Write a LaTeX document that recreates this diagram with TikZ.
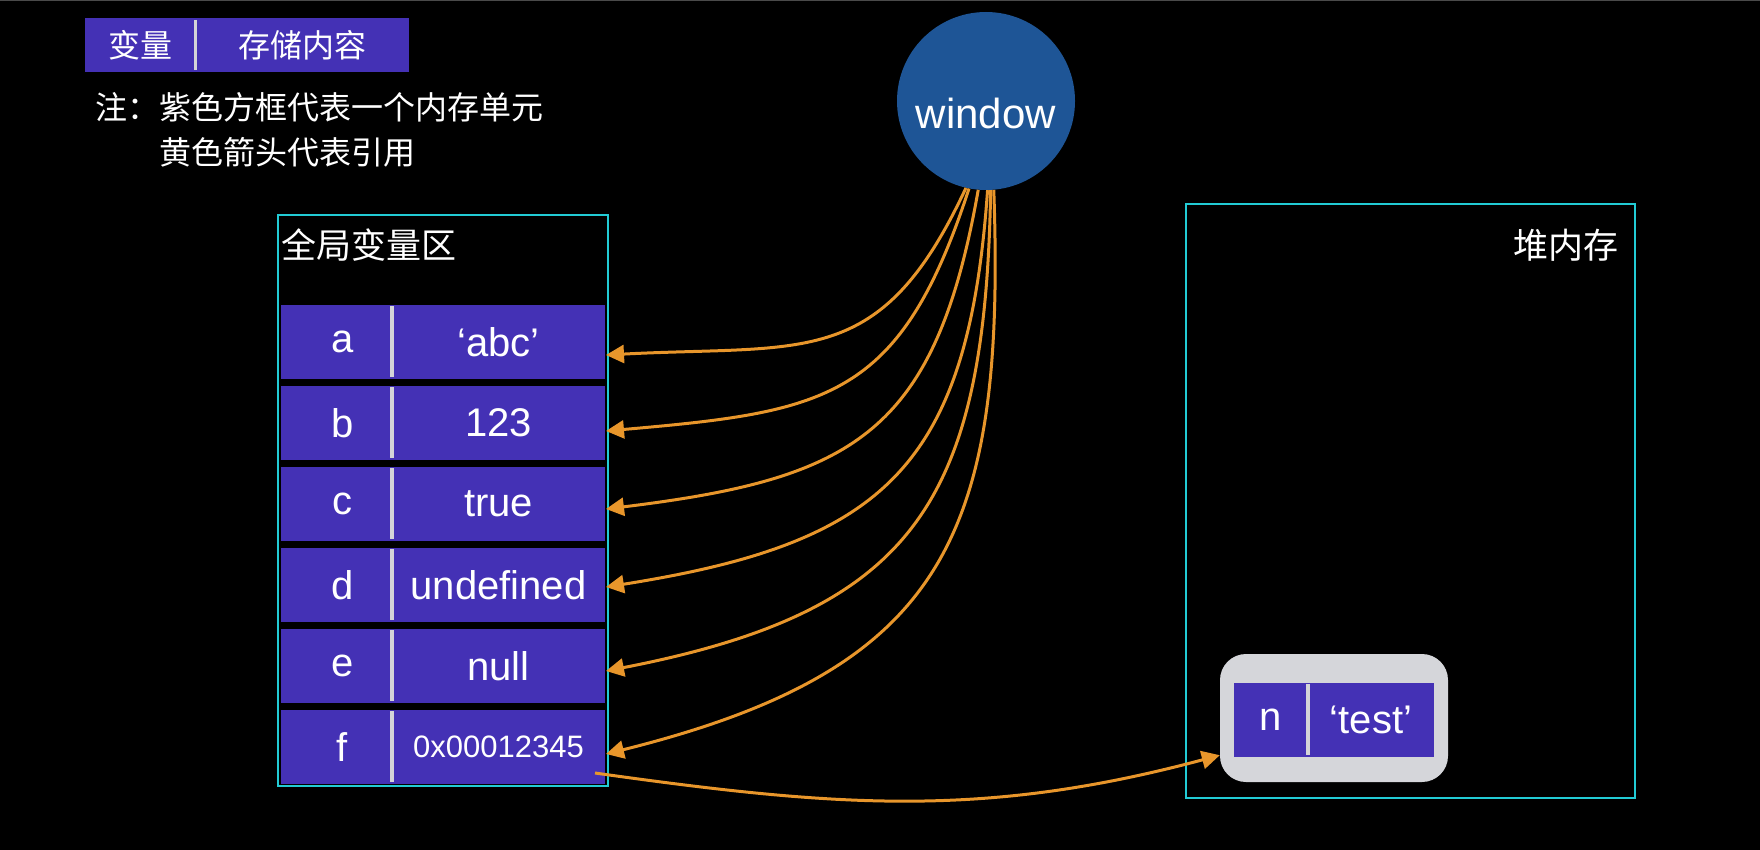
\documentclass[tikz,border=0pt]{standalone}
\usepackage{fontspec}
\setmainfont{Liberation Sans}
\newfontfamily\cjk{Noto Sans CJK SC}
\usetikzlibrary{arrows.meta, positioning}

\definecolor{cellpurple}{HTML}{4431B5}
\definecolor{cellline}{HTML}{D4D4D8}
\definecolor{regioncyan}{HTML}{22CBD5}
\definecolor{refarrow}{HTML}{E8962B}
\definecolor{winblue}{HTML}{1E5596}
\definecolor{heapgray}{HTML}{D5D6DA}
\definecolor{topline}{HTML}{4A4A4A}

\tikzset{
  keycell/.style={fill=cellpurple, text=white, minimum width=111pt, minimum height=74pt,
    inner sep=0pt, outer sep=0pt, font=\fontsize{40}{40}\selectfont},
  valcell/.style={keycell, minimum width=213pt},
  legkey/.style={keycell, minimum width=110pt, minimum height=54pt, font=\cjk\fontsize{32}{32}\selectfont},
  legval/.style={legkey, minimum width=214pt},
  divider/.style={draw=cellline, line width=4pt},
  region/.style={draw=regioncyan, line width=2pt},
  label/.style={text=white, inner sep=0pt, font=\cjk\fontsize{35}{35}\selectfont},
  note/.style={text=white, inner sep=0pt, font=\cjk\fontsize{32}{32}\selectfont},
  window/.style={circle, fill=winblue, text=white, minimum size=178pt, inner sep=0pt,
    font=\fontsize{42}{42}\selectfont, text height=56pt, text depth=0pt},
  heapbox/.style={fill=heapgray, rounded corners=26pt, minimum width=228pt, minimum height=128pt},
  ref/.style={draw=refarrow, line width=3pt, -{Triangle[length=18pt,width=18pt]}},
}

\begin{document}
\begin{tikzpicture}[x=1pt, y=1pt]
    \useasboundingbox (0,0) rectangle (1760,-850);
    \fill[black] (0,0) rectangle (1760,-850);
    \draw[draw=topline, line width=2pt] (0,0) -- (1760,0);

    % Legend
    \node[legkey] (legk) at (140,-45) {变量};
    \node[legval, right=0pt of legk] (legv) {存储内容};
    \draw[divider, line width=3pt] ([yshift=-2pt]legk.north east) -- ([yshift=2pt]legk.south east);
    \node[note, anchor=base west] (note1) at (95,-120) {注：紫色方框代表一个内存单元};
    \node[note, anchor=base west] (note2) at ([xshift=64pt, yshift=-45pt]note1.base west) {黄色箭头代表引用};

    % Regions
    \draw[region] (278,-215) rectangle (608,-786);
    \node[label, anchor=west] (global) at (281,-245) {全局变量区};
    \draw[region] (1186,-204) rectangle (1635,-798);
    \node[label, anchor=east] (heap) at (1619,-245) {堆内存};

    % Cells
    \foreach \k/\v [count=\i from 0] in {a/‘abc’, b/123, c/true, d/undefined, e/null,
        f/{\fontsize{31}{31}\selectfont 0x00012345}} {
        \node[keycell] (k\k) at (336.5, {-342-81*\i}) {\hspace*{12pt}\k};
        \node[valcell, right=0pt of k\k] (v\k) {\v};
        \draw[divider] ([yshift=-1pt]k\k.north east) -- ([yshift=2pt]k\k.south east);
    }

    \node[heapbox] (nbox) at (1334,-718) {};
    \node[keycell, minimum width=74pt] (kn) at (1271,-720) {n};
    \node[valcell, minimum width=126pt, right=0pt of kn] (vn) {‘test’};
    \draw[divider] ([yshift=-1pt]kn.north east) -- ([yshift=2pt]kn.south east);

    \node[window] (win) at (986,-101) {window};

    % Edges
    \foreach \k/\a/\o/\n/\s in {a/-103/-115/3/13, b/-101/-108/5/8, c/-95/-100/7/5,
        d/-89/-94/9/2, e/-87/-91/11/5, f/-85/-88/14/7}
        \draw[ref, looseness=1.3] (win.\a) to[out=\o, in=\n] ([xshift=1pt, yshift=-\s pt]v\k.east);
    \draw[ref] ([xshift=-10pt, yshift=11pt]vf.south east) to[out=-8, in=195] ([yshift=27pt]nbox.south west);
\end{tikzpicture}
\end{document}
